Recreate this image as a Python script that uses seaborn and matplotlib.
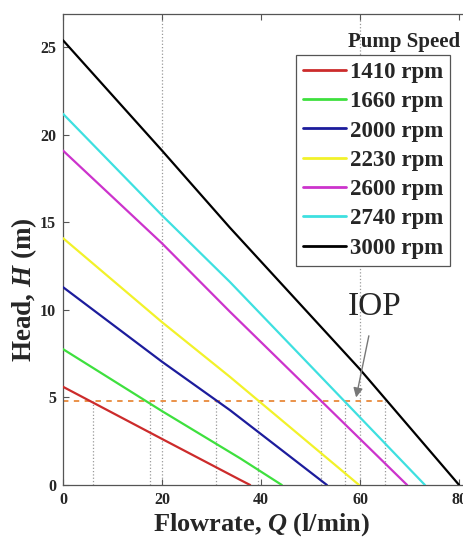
import seaborn as sns
import matplotlib.pyplot as plt
import pandas as pd

sns.set_theme(style="ticks")
plt.rcParams["font.family"] = ["Liberation Serif", "DejaVu Serif"]
plt.rcParams["mathtext.fontset"] = "custom"
plt.rcParams["mathtext.it"] = "Liberation Serif:italic:bold"
plt.rcParams["mathtext.rm"] = "Liberation Serif:bold"

speeds = ["1410 rpm", "1660 rpm", "2000 rpm", "2230 rpm", "2600 rpm", "2740 rpm", "3000 rpm"]
colors = ["#cc2b2b", "#3ee03e", "#1c1c9c", "#f2f22a", "#cc33cc", "#3ee0e0", "#000000"]

q_1410 = [0, 20, 35.8, 37.8]
h_1410 = [5.61, 2.63, 0.29, 0]
q_1660 = [0, 20, 35.8, 44.2]
h_1660 = [7.76, 4.22, 1.52, 0]
q_2000 = [0, 11.5, 20, 33.7, 53.3]
h_2000 = [11.3, 8.85, 7.04, 4.28, 0]
q_2230 = [0, 20, 33.7, 59.8]
h_2230 = [14.1, 9.3, 6.18, 0]
q_2600 = [0, 20, 33.7, 69.5]
h_2600 = [19.1, 13.8, 9.9, 0]
q_2740 = [0, 20, 33.7, 73.1]
h_2740 = [21.2, 15.4, 11.6, 0]
q_3000 = [0, 20, 33.7, 60, 80]
h_3000 = [25.4, 19.1, 14.7, 6.6, 0]

iop_head = 4.8
iop_flows = [6, 17.6, 31, 39.4, 52.1, 57, 65]
grid_x = [20, 60]

curves = [(q_1410, h_1410), (q_1660, h_1660), (q_2000, h_2000), (q_2230, h_2230),
          (q_2600, h_2600), (q_2740, h_2740), (q_3000, h_3000)]
rows = []
for name, (qs, hs) in zip(speeds, curves):
    for q, h in zip(qs, hs):
        rows.append({"Q": q, "H": h, "speed": name})
df = pd.DataFrame(rows)

fig = plt.figure(figsize=(4.64, 5.38), dpi=100)
ax = fig.add_axes([63 / 464, 53 / 538, 406 / 464, 471 / 538])

# reference lines
for x in grid_x:
    ax.axvline(x, color="#999999", lw=0.9, ls=":", zorder=0)
for x in iop_flows:
    ax.plot([x, x], [0, iop_head], color="#999999", lw=0.9, ls=":", zorder=0)
ax.plot([0, max(iop_flows)], [iop_head, iop_head], color="#e8893a", lw=1.3,
        ls=(0, (3, 3)), zorder=1)

sns.lineplot(data=df, x="Q", y="H", hue="speed", palette=colors, ax=ax,
             lw=1.6, estimator=None, sort=False, zorder=3)

ax.set_xlim(0, 82)
ax.set_ylim(0, 26.9)
ax.set_xticks([0, 20, 40, 60, 80])
ax.set_yticks([0, 5, 10, 15, 20, 25])
ax.tick_params(direction="in", length=4, top=True, right=True, width=0.8,
               labelsize=11.5, color="#555555", pad=5)
for lab in ax.get_xticklabels() + ax.get_yticklabels():
    lab.set_fontweight("bold")
for sp in ax.spines.values():
    sp.set_color("#555555")
    sp.set_linewidth(0.9)

ax.set_xlabel("Flowrate, $Q$ (l/min)", fontsize=19, fontweight="bold", va="center")
ax.xaxis.set_label_coords((261 - 63) / 406, (485 - 525) / 471)
ax.set_ylabel("Head, $H$ (m)", fontsize=19.5, fontweight="bold", va="center")
ax.yaxis.set_label_coords((24 - 63) / 406, (485 - 290) / 471)

leg = ax.legend(loc="upper right", bbox_to_anchor=((450 - 63) / 406, (485 - 55) / 471),
                prop={"weight": "bold", "size": 16.5}, handlelength=1.9,
                handletextpad=0.15, labelspacing=0.36, borderpad=0.3,
                borderaxespad=0, fancybox=False, framealpha=1)
leg.get_frame().set_edgecolor("#555555")
leg.get_frame().set_linewidth(0.9)
for line in leg.get_lines():
    line.set_linewidth(2.0)

fig.text(460 / 464, 1 - 42 / 538, "Pump Speed", ha="right", va="center",
         fontsize=15, fontweight="bold")

ax.annotate("IOP", xy=(59.2, 5.0), xytext=(63.0, 10.2), fontsize=24,
            ha="center", va="center",
            arrowprops=dict(arrowstyle="-|>", color="#777777", lw=1.0,
                            mutation_scale=14, shrinkA=8, shrinkB=0))

plt.savefig("out.png", dpi=100)
